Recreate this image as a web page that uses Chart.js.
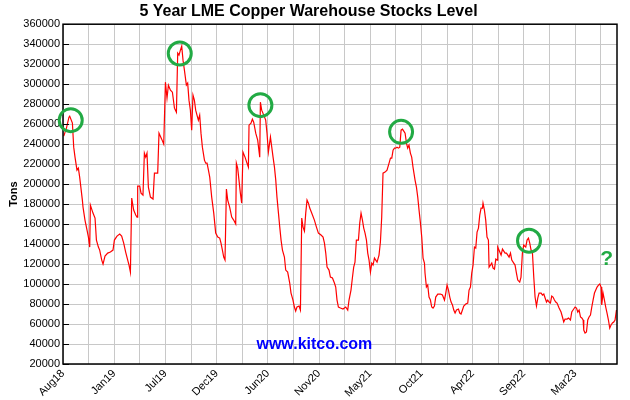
<!DOCTYPE html>
<html>
<head>
<meta charset="utf-8">
<title>5 Year LME Copper Warehouse Stocks Level</title>
<script src="https://cdn.jsdelivr.net/npm/chart.js@4/dist/chart.umd.min.js"></script>
<style>
  html, body { margin: 0; padding: 0; background: #fff; }
</style>
</head>
<body>
<canvas id="chartStocks" width="630" height="400"></canvas>
<script>
// x = months since Aug 2018, y = tons
const months = [
  0.08, 0.37, 0.64, 0.72, 1.01, 1.15, 1.29, 1.50, 1.65, 1.79, 2.08, 2.15, 2.36, 2.58, 2.73, 2.87, 2.94, 3.22, 3.44, 3.59,
  3.80, 3.94, 4.16, 4.30, 4.51, 4.80, 5.09, 5.37, 5.52, 5.80, 6.09, 6.30, 6.52, 6.73, 6.95, 7.09, 7.24, 7.38, 7.59, 7.81,
  7.95, 8.02, 8.24, 8.38, 8.59, 8.74, 8.88, 9.02, 9.17, 9.39, 9.67, 9.82, 10.17, 10.31, 10.60, 10.82, 11.00, 11.17, 11.32, 11.54,
  11.75, 11.97, 12.18, 12.32, 12.46, 12.61, 12.75, 12.89, 13.04, 13.25, 13.39, 13.53, 13.68, 13.82, 13.96, 14.11, 14.25, 14.39, 14.54, 14.68,
  14.82, 14.97, 15.19, 15.33, 15.47, 15.62, 15.76, 15.97, 16.19, 16.40, 16.62, 16.83, 16.97, 17.12, 17.26, 17.40, 17.55, 17.69, 17.90, 18.12,
  18.33, 18.55, 18.62, 18.76, 18.90, 19.05, 19.19, 19.33, 19.55, 19.76, 19.91, 19.98, 20.19, 20.34, 20.48, 20.70, 20.91, 21.13, 21.20, 21.34,
  21.56, 21.77, 21.91, 22.06, 22.28, 22.42, 22.56, 22.71, 22.85, 22.98, 23.14, 23.28, 23.42, 23.57, 23.78, 23.92, 24.13, 24.35, 24.49, 24.70,
  24.85, 24.99, 25.13, 25.35, 25.50, 25.64, 25.78, 25.93, 26.07, 26.21, 26.36, 26.50, 26.71, 27.00, 27.22, 27.43, 27.71, 27.93, 28.08, 28.22,
  28.36, 28.57, 28.72, 28.94, 29.15, 29.29, 29.43, 29.58, 29.80, 30.07, 30.36, 30.58, 30.72, 30.93, 31.08, 31.22, 31.36, 31.51, 31.73, 31.87,
  32.01, 32.16, 32.30, 32.44, 32.59, 32.73, 32.87, 33.02, 33.16, 33.30, 33.45, 33.59, 33.73, 33.94, 34.09, 34.23, 34.37, 34.59, 34.80, 35.02,
  35.17, 35.31, 35.45, 35.60, 35.74, 35.87, 36.03, 36.17, 36.31, 36.46, 36.60, 36.74, 36.89, 37.02, 37.16, 37.31, 37.45, 37.59, 37.81, 37.96,
  38.10, 38.24, 38.39, 38.53, 38.67, 38.82, 38.88, 39.03, 39.17, 39.31, 39.46, 39.60, 39.74, 39.89, 40.03, 40.25, 40.54, 40.75, 40.97, 41.11,
  41.25, 41.40, 41.54, 41.68, 41.83, 41.97, 42.11, 42.26, 42.47, 42.61, 42.75, 42.90, 43.04, 43.26, 43.47, 43.61, 43.76, 43.90, 44.04, 44.19,
  44.33, 44.47, 44.62, 44.76, 44.90, 45.05, 45.11, 45.26, 45.40, 45.54, 45.69, 45.76, 45.91, 46.05, 46.19, 46.34, 46.48, 46.62, 46.69, 46.91,
  47.05, 47.20, 47.34, 47.48, 47.63, 47.77, 47.91, 48.06, 48.20, 48.41, 48.55, 48.70, 48.84, 49.05, 49.19, 49.34, 49.48, 49.70, 49.84, 49.99,
  50.13, 50.27, 50.42, 50.56, 50.70, 50.85, 50.99, 51.13, 51.35, 51.50, 51.64, 51.78, 51.93, 52.06, 52.20, 52.35, 52.49, 52.63, 52.78, 52.92,
  53.06, 53.28, 53.49, 53.64, 53.78, 53.92, 54.14, 54.29, 54.50, 54.64, 54.78, 55.00, 55.15, 55.29, 55.43, 55.58, 55.72, 55.86, 55.93, 56.07,
  56.22, 56.36, 56.50, 56.65, 56.79, 56.93, 57.08, 57.22, 57.36, 57.51, 57.65, 57.79, 57.86, 58.00, 58.15, 58.29, 58.43, 58.58, 58.72, 58.86,
  59.01, 59.15, 59.29, 59.44
];
const tons = [
  248000, 256000, 267000, 268000, 261000, 237000, 227000, 214000, 216000, 207000, 184000, 177000, 164000, 154000, 147000, 137000, 179000, 171000, 166000, 144000,
  137000, 134000, 124000, 120000, 128000, 131000, 132000, 134000, 144000, 148000, 150000, 148000, 141000, 132000, 124000, 119000, 112000, 186000, 174000, 169000,
  167000, 198000, 198000, 191000, 189000, 231000, 227000, 231000, 197000, 187000, 185000, 211000, 211000, 251000, 245000, 240000, 302000, 286000, 299000, 294000,
  292000, 276000, 272000, 331000, 329000, 334000, 338000, 324000, 314000, 299000, 301000, 284000, 274000, 254000, 289000, 284000, 274000, 269000, 264000, 269000,
  251000, 237000, 224000, 221000, 221000, 214000, 207000, 187000, 171000, 151000, 147000, 146000, 141000, 134000, 127000, 124000, 195000, 184000, 177000, 167000,
  164000, 160000, 221000, 216000, 204000, 191000, 181000, 232000, 227000, 221000, 217000, 259000, 261000, 265000, 262000, 251000, 244000, 227000, 282000, 274000,
  269000, 264000, 251000, 232000, 247000, 237000, 227000, 217000, 204000, 187000, 171000, 157000, 144000, 134000, 127000, 114000, 112000, 101000, 91000, 84000,
  77000, 73000, 77000, 78000, 74000, 166000, 157000, 153000, 171000, 184000, 181000, 176000, 171000, 164000, 157000, 151000, 149000, 147000, 141000, 131000,
  117000, 114000, 107000, 106000, 101000, 97000, 84000, 77000, 76000, 75000, 77000, 74000, 84000, 94000, 106000, 117000, 122000, 144000, 144000, 161000,
  171000, 164000, 156000, 151000, 144000, 131000, 124000, 112000, 121000, 119000, 126000, 124000, 122000, 129000, 142000, 167000, 211000, 212000, 214000, 221000,
  226000, 226000, 234000, 236000, 236000, 237000, 236000, 237000, 254000, 255000, 253000, 251000, 241000, 236000, 239000, 231000, 227000, 217000, 204000, 197000,
  187000, 174000, 161000, 147000, 126000, 121000, 111000, 97000, 99000, 87000, 84000, 77000, 76000, 78000, 87000, 90000, 90000, 89000, 84000, 91000,
  99000, 94000, 87000, 82000, 79000, 74000, 71000, 74000, 75000, 71000, 70000, 74000, 78000, 80000, 81000, 94000, 97000, 111000, 119000, 137000,
  136000, 152000, 156000, 169000, 176000, 176000, 181000, 174000, 164000, 147000, 144000, 117000, 119000, 121000, 116000, 115000, 125000, 124000, 137000, 132000,
  129000, 135000, 133000, 131000, 131000, 129000, 127000, 131000, 124000, 121000, 119000, 111000, 104000, 102000, 107000, 131000, 139000, 137000, 144000, 146000,
  141000, 134000, 131000, 107000, 87000, 78000, 86000, 91000, 91000, 89000, 90000, 86000, 82000, 84000, 82000, 81000, 88000, 87000, 84000, 82000,
  81000, 76000, 72000, 67000, 62000, 65000, 65000, 66000, 64000, 72000, 74000, 77000, 76000, 72000, 74000, 67000, 66000, 64000, 54000, 51000,
  52000, 64000, 67000, 69000, 77000, 84000, 91000, 94000, 97000, 99000, 100000, 97000, 79000, 91000, 84000, 77000, 71000, 64000, 56000, 59000,
  61000, 62000, 64000, 74000
];
const tickLabels = ['Aug18', 'Jan19', 'Jul19', 'Dec19', 'Jun20', 'Nov20', 'May21', 'Oct21', 'Apr22', 'Sep22', 'Mar23'];

// highlighted peaks (green circles)
const peakMonths = [0.83, 12.54, 21.2, 36.31, 50.05];
const peakTons = [264000, 330700, 279000, 252300, 143300];

const GRID_STEP = 2.75;
const GREEN = '#22aa44';

Chart.defaults.font.family = "'Liberation Sans', Arial, sans-serif";
Chart.defaults.color = '#000';

const overlay = {
    id: 'overlay',
    afterDatasetsDraw(chart) {
        const { ctx, chartArea: a, scales: { x, y } } = chart;
        ctx.save();

        // small inward tick marks on the left edge
        ctx.strokeStyle = '#000';
        ctx.lineWidth = 1;
        y.ticks.forEach(t => {
            const py = Math.round(y.getPixelForValue(t.value)) + 0.5;
            ctx.beginPath();
            ctx.moveTo(a.left, py);
            ctx.lineTo(a.left + 6, py);
            ctx.stroke();
        });

        // frame around the plot
        ctx.lineWidth = 1.5;
        ctx.strokeRect(a.left, a.top, a.right - a.left, a.bottom - a.top);

        // circles
        ctx.strokeStyle = GREEN;
        ctx.lineWidth = 3;
        peakMonths.forEach((m, i) => {
            ctx.beginPath();
            ctx.arc(x.getPixelForValue(m), y.getPixelForValue(peakTons[i]), 11.5, 0, Math.PI * 2);
            ctx.stroke();
        });

        ctx.textAlign = 'center';
        ctx.textBaseline = 'middle';
        ctx.fillStyle = GREEN;
        ctx.font = "bold 21px 'Liberation Sans', Arial, sans-serif";
        ctx.fillText('?', x.getPixelForValue(58.4), y.getPixelForValue(125000));

        ctx.fillStyle = '#0000ff';
        ctx.font = "bold 16px 'Liberation Sans', Arial, sans-serif";
        ctx.fillText('www.kitco.com', x.getPixelForValue(27.0), y.getPixelForValue(39000));
        ctx.restore();
    }
};

new Chart(document.getElementById('chartStocks'), {
    type: 'line',
    data: {
        datasets: [{
            label: 'LME Copper Stocks',
            data: months.map((m, i) => ({ x: m, y: tons[i] })),
            borderColor: '#ff0000',
            borderWidth: 1.2,
            pointRadius: 0,
            tension: 0,
            fill: false
        }]
    },
    options: {
        responsive: false,
        animation: false,
        layout: { padding: { left: 0, right: 13, top: 0, bottom: 0 } },
        plugins: {
            legend: { display: false },
            tooltip: { enabled: false },
            title: {
                display: true,
                text: '5 Year LME Copper Warehouse Stocks Level',
                color: '#000',
                font: { size: 16, weight: 'bold' },
                padding: { top: 2, bottom: 3 }
            }
        },
        scales: {
            x: {
                type: 'linear',
                min: 0,
                max: 59.5,
                afterFit: s => { s.height = 36; },
                border: { display: false },
                grid: { color: '#c8c8c8', drawTicks: false },
                ticks: {
                    stepSize: GRID_STEP,
                    includeBounds: false,
                    autoSkip: false,
                    minRotation: 45,
                    maxRotation: 45,
                    padding: 3,
                    font: { size: 11 },
                    color: '#000',
                    callback: v => {
                        const i = Math.round(v / GRID_STEP);
                        return i % 2 === 0 ? (tickLabels[i / 2] || '') : '';
                    }
                }
            },
            y: {
                min: 20000,
                max: 360000,
                afterFit: s => { s.width = 63; },
                border: { display: false },
                grid: { color: '#c8c8c8', drawTicks: false },
                ticks: {
                    stepSize: 20000,
                    padding: 3,
                    font: { size: 11 },
                    color: '#000',
                    callback: v => String(v)
                },
                title: {
                    display: true,
                    text: 'Tons',
                    color: '#000',
                    font: { size: 11, weight: 'bold' },
                    padding: { top: 7, bottom: 0 }
                }
            }
        }
    },
    plugins: [overlay]
});
</script>
</body>
</html>
